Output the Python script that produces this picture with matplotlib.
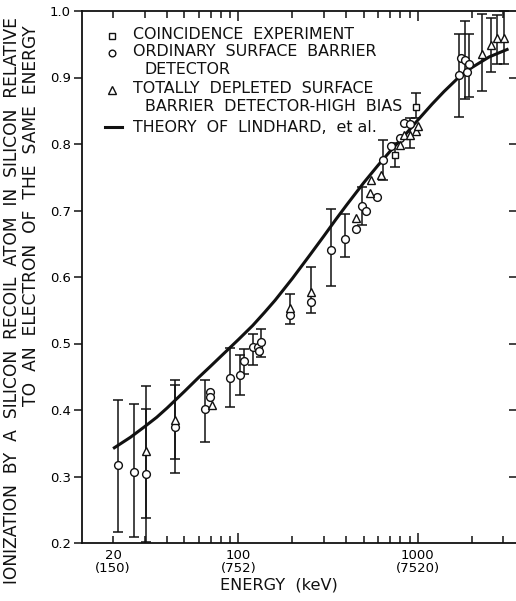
import matplotlib
matplotlib.use("Agg")
import matplotlib.pyplot as plt
import numpy as np

# ---- data -------------------------------------------------------------
# Coincidence experiment (squares)
coin_e = [747, 973]
coin_y = [0.784, 0.855]
coin_bar_e = [747, 973]
coin_bar_lo = [0.766, 0.839]
coin_bar_hi = [0.801, 0.876]

# Ordinary surface barrier detector (circles)
ord_e = [21.2, 26.2, 30.5, 44.4, 65.3, 69.7, 69.7, 89.3, 101.6, 107, 120,
         129, 130, 133.6, 193, 255, 326, 390, 454, 487, 516, 594, 641, 711,
         790, 840, 902, 1687, 1738, 1837, 1868, 1919]
ord_y = [0.317, 0.307, 0.304, 0.374, 0.401, 0.427, 0.419, 0.448, 0.453, 0.474,
         0.494, 0.494, 0.488, 0.502, 0.543, 0.562, 0.640, 0.657, 0.672, 0.707,
         0.700, 0.721, 0.776, 0.797, 0.809, 0.832, 0.830, 0.904, 0.929, 0.926,
         0.909, 0.921]
ord_bar_e = [21.2, 26.2, 30.5, 44.4, 65.3, 89.3, 101.6, 107, 120, 133.6, 193,
             255, 326, 390, 487, 641, 1687, 1837, 1919]
ord_bar_lo = [0.217, 0.209, 0.202, 0.305, 0.352, 0.405, 0.423, 0.454, 0.468,
              0.480, 0.529, 0.546, 0.587, 0.630, 0.678, 0.746, 0.840, 0.867,
              0.871]
ord_bar_hi = [0.415, 0.409, 0.401, 0.445, 0.445, 0.493, 0.483, 0.492, 0.515,
              0.522, 0.574, 0.615, 0.702, 0.695, 0.736, 0.806, 0.966, 0.985,
              0.966]

# Totally depleted surface barrier detector, high bias (triangles)
dep_e = [30.5, 44.4, 71.1, 193, 255, 454, 538, 550, 627, 797, 834, 902, 973,
         1003, 2275, 2553, 2760, 3009]
dep_y = [0.339, 0.385, 0.407, 0.554, 0.578, 0.688, 0.727, 0.746, 0.753, 0.799,
         0.814, 0.814, 0.820, 0.827, 0.936, 0.949, 0.960, 0.960]
dep_bar_e = [30.5, 44.4, 902, 2275, 2553, 2760, 3009]
dep_bar_lo = [0.238, 0.326, 0.794, 0.879, 0.909, 0.921, 0.921]
dep_bar_hi = [0.436, 0.437, 0.839, 0.996, 0.990, 0.994, 1.000]

# Theory of Lindhard et al.
theory_e = [20, 25, 30, 35, 40, 50, 60, 70, 80, 100, 120, 140, 160, 200, 250,
            300, 350, 400, 500, 600, 700, 850, 1000, 1200, 1400, 1700, 2000,
            2500, 3200]
theory_y = [0.342, 0.359, 0.375, 0.389, 0.403, 0.428, 0.449, 0.466, 0.481,
            0.506, 0.527, 0.547, 0.565, 0.598, 0.633, 0.662, 0.687, 0.708,
            0.742, 0.768, 0.789, 0.814, 0.836, 0.860, 0.879, 0.901, 0.915,
            0.931, 0.943]

# Axis ticks
xtick_major = [100, 1000]
xtick_major_labels = ["100\n(752)", "1000\n(7520)"]
xtick_minor = [20, 30, 40, 50, 60, 70, 80, 90, 200, 300, 400, 500, 600, 700,
               800, 900, 2000, 3000]
xtick_minor_labels = {20: "20\n(150)"}
ytick_values = [0.2, 0.3, 0.4, 0.5, 0.6, 0.7, 0.8, 0.9, 1.0]

ylabel_line1 = "IONIZATION  BY  A  SILICON  RECOIL  ATOM  IN  SILICON  RELATIVE"
ylabel_line2 = "TO  AN  ELECTRON  OF  THE  SAME  ENERGY"
xlabel_text = "ENERGY  (keV)"
legend_rows = [
    ("s", ["COINCIDENCE  EXPERIMENT"]),
    ("o", ["ORDINARY  SURFACE  BARRIER", "DETECTOR"]),
    ("^", ["TOTALLY  DEPLETED  SURFACE", "BARRIER  DETECTOR-HIGH  BIAS"]),
    ("-", ["THEORY  OF  LINDHARD,  et al."]),
]

# ---- figure -----------------------------------------------------------
W, H = 516, 601
plt.rcParams["font.family"] = ["DejaVu Sans"]
fig = plt.figure(figsize=(W / 100, H / 100), dpi=100)
ink = "#111111"

ax_l, ax_r, ax_t, ax_b = 82, 516, 11, 543
ax = fig.add_axes([ax_l / W, 1 - ax_b / H, (ax_r - ax_l) / W, (ax_b - ax_t) / H])
ax.set_xscale("log")
ax.set_xlim(13.42, 3524)
ax.set_ylim(0.2, 1.0)


def px(x, y):
    """Pixel position -> figure fraction."""
    return x / W, 1 - y / H


# theory curve
ax.plot(theory_e, theory_y, color=ink, lw=2.2, zorder=2, solid_capstyle="butt",
        solid_joinstyle="round")


def bars(e, lo, hi):
    lo = np.asarray(lo)
    hi = np.asarray(hi)
    mid = (lo + hi) / 2
    err = (hi - lo) / 2
    ax.errorbar(e, mid, yerr=err, fmt="none", ecolor=ink, elinewidth=1.1,
                capsize=3.6, capthick=1.1, zorder=3, clip_on=False)


bars(ord_bar_e, ord_bar_lo, ord_bar_hi)
bars(dep_bar_e, dep_bar_lo, dep_bar_hi)
bars(coin_bar_e, coin_bar_lo, coin_bar_hi)

mk = dict(ls="none", mfc="white", mec=ink, mew=1.0, zorder=4)
ax.plot(ord_e, ord_y, marker="o", ms=5.6, **mk)
ax.plot(dep_e, dep_y, marker="^", ms=5.8, **mk)
ax.plot(coin_e, coin_y, marker="s", ms=4.6, **mk)

# spines and ticks
for side in ("left", "bottom", "top"):
    ax.spines[side].set_linewidth(1.3)
    ax.spines[side].set_color(ink)
ax.spines["right"].set_visible(False)

ax.set_xticks(xtick_major)
ax.set_xticklabels(xtick_major_labels)
ax.set_xticks(xtick_minor, minor=True)
ax.set_xticklabels([xtick_minor_labels.get(v, "") for v in xtick_minor], minor=True)
ax.tick_params(axis="x", which="both", direction="in", top=True, bottom=True,
               color=ink, width=1.1, labelsize=9.5, pad=4)
ax.tick_params(axis="x", which="major", length=7)
ax.tick_params(axis="x", which="minor", length=5)
for lab in ax.get_xticklabels(which="both"):
    lab.set_linespacing(1.05)

ax.set_yticks(ytick_values)
ax.set_yticklabels([f"{v:.1f}" for v in ytick_values])
ax.yaxis.set_minor_locator(matplotlib.ticker.NullLocator())
ax.tick_params(axis="y", which="major", direction="out", left=True, right=False,
               length=6, width=1.1, color=ink, labelsize=9.5, pad=2)

# inward ticks along the right edge
ax_r2 = ax.twinx()
ax_r2.set_ylim(ax.get_ylim())
ax_r2.set_yticks(ytick_values[1:-1])
ax_r2.set_yticklabels([])
ax_r2.tick_params(axis="y", direction="in", length=5, width=1.1, color=ink)
for s in ax_r2.spines.values():
    s.set_visible(False)

# axis titles
fig.text(*px(12, 301), ylabel_line1, rotation=90, ha="center", va="center",
         fontsize=12.3, color=ink)
fig.text(*px(31, 216), ylabel_line2, rotation=90, ha="center", va="center",
         fontsize=12.3, color=ink)
fig.text(*px(279, 585), xlabel_text, ha="center", va="center", fontsize=11.6,
         color=ink)

# key
row_y = [[34.5], [52, 69.5], [88.5, 106.5], [127]]
for (sym, lines), ys in zip(legend_rows, row_y):
    if sym == "-":
        x0, y0 = px(105, ys[0])
        x1, _ = px(122, ys[0])
        fig.add_artist(plt.Line2D([x0, x1], [y0, y0], color=ink, lw=2.2))
    else:
        mx, my = px(112.3, ys[0] + 1)
        size = {"s": 4.6, "o": 4.8, "^": 5.2}[sym]
        fig.add_artist(plt.Line2D([mx], [my], marker=sym, ms=size, mfc="white",
                                  mec=ink, mew=1.0, ls="none"))
    for i, (txt, yy) in enumerate(zip(lines, ys)):
        xx = 133 if i == 0 else 145
        fig.text(*px(xx, yy), txt, ha="left", va="center", fontsize=11.4,
                 color=ink)

fig.savefig("out.png", dpi=100, facecolor="white")
